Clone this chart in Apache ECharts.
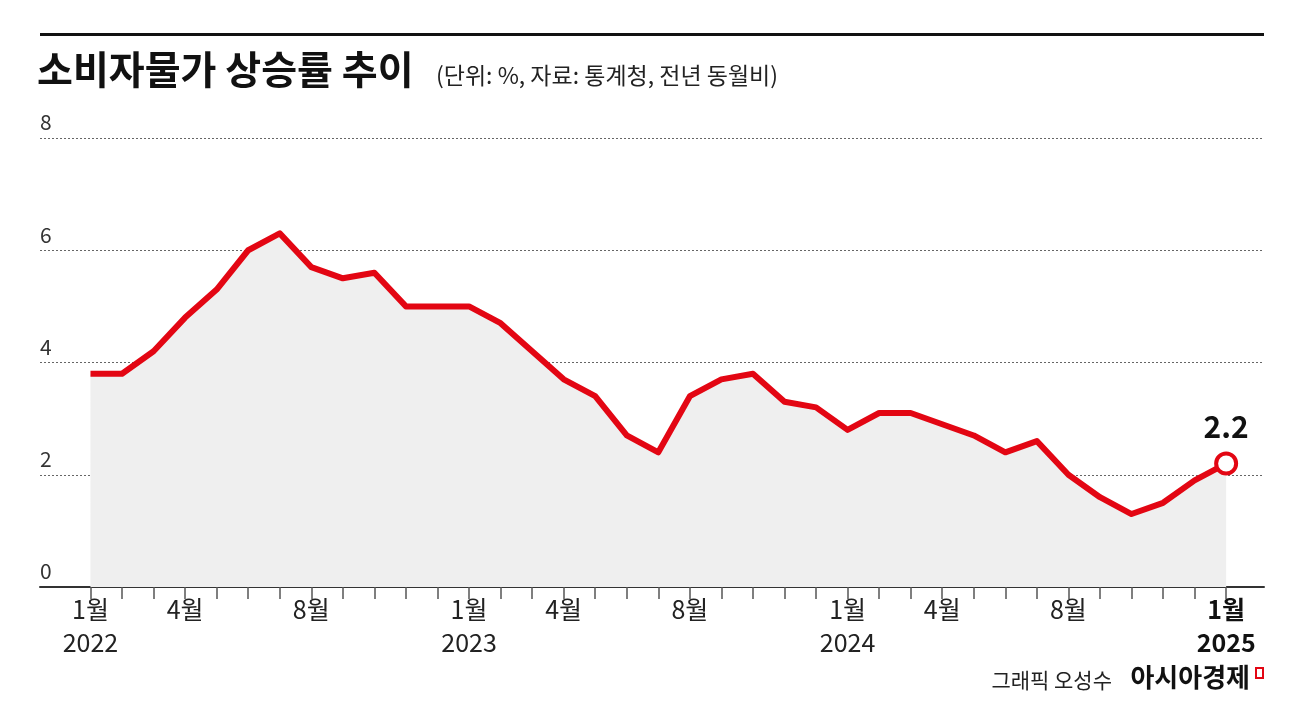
<!DOCTYPE html>
<html>
<head>
<meta charset="utf-8">
<script src="https://cdn.jsdelivr.net/npm/echarts@6/dist/echarts.min.js"></script>
<style>
  html, body { margin: 0; padding: 0; background: #fff; }
  #chart { width: 1304px; height: 714px; }
</style>
</head>
<body>
<div id="chart"></div>
<script>
var FONT = '"Noto Sans CJK KR", "Noto Sans", sans-serif';

// 월별 소비자물가 상승률 (2022.1 ~ 2025.1)
var rates = [
    3.8, 3.8, 4.2, 4.8, 5.3, 6.0, 6.3, 5.7, 5.5, 5.6, 5.0, 5.0,
    5.0, 4.7, 4.2, 3.7, 3.4, 2.7, 2.4, 3.4, 3.7, 3.8, 3.3, 3.2,
    2.8, 3.1, 3.1, 2.9, 2.7, 2.4, 2.6, 2.0, 1.6, 1.3, 1.5, 1.9,
    2.2
];
var labelIdx = [0, 3, 7, 12, 15, 19, 24, 27, 31, 36];
var labelText = ['1월\n2022', '4월', '8월', '1월\n2023', '4월', '8월', '1월\n2024', '4월', '8월', '1월\n2025'];
var yTicks = [0, 2, 4, 6, 8];

var monthIdx = rates.map(function (v, i) { return i; });
var points = rates.map(function (v, i) { return [i, v]; });
var last = points.length - 1;

var option = {
    animation: false,
    backgroundColor: '#fff',
    graphic: [
        { type: 'rect', shape: { x: 40, y: 33, width: 1224, height: 3 }, style: { fill: '#111' } },
        { type: 'text', left: 37, top: 50, style: { text: '소비자물가 상승률 추이', font: 'bold 39px ' + FONT, fill: '#111' } },
        { type: 'text', left: 436, top: 64, style: { text: '(단위: %, 자료: 통계청, 전년 동월비)', font: '23px ' + FONT, fill: '#222' } },
        { type: 'text', right: 192, top: 670, style: { text: '그래픽 오성수', font: '21px ' + FONT, fill: '#222' } },
        { type: 'text', right: 54, top: 664, style: { text: '아시아경제', font: 'bold 26px ' + FONT, fill: '#111' } },
        { type: 'rect', shape: { x: 1256, y: 668, width: 7, height: 10 }, style: { fill: 'none', stroke: '#e30613', lineWidth: 2 } }
    ],
    grid: { left: 40, right: 40, top: 138, bottom: 127 },
    xAxis: {
        type: 'value',
        min: -1.6,
        max: 37.2,
        splitLine: { show: false },
        axisLine: { show: true, onZero: false, lineStyle: { color: '#333', width: 2 } },
        axisTick: { show: true, customValues: monthIdx, inside: false, length: 12, lineStyle: { color: '#555', width: 1.5 } },
        axisLabel: {
            customValues: labelIdx,
            margin: 6,
            formatter: function (v) {
                var t = labelText[labelIdx.indexOf(v)];
                return v === 36 ? '{b|' + t + '}' : '{n|' + t + '}';
            },
            rich: {
                n: { fontFamily: FONT, fontSize: 25, color: '#222', lineHeight: 33 },
                b: { fontFamily: FONT, fontSize: 25, fontWeight: 'bold', color: '#111', lineHeight: 33 }
            }
        }
    },
    yAxis: {
        type: 'value',
        min: 0,
        max: 8,
        interval: 2,
        axisLine: { show: false },
        axisTick: { show: false },
        splitLine: { lineStyle: { color: '#666', type: [2, 2], width: 1 } },
        axisLabel: {
            inside: true,
            margin: 0,
            verticalAlign: 'bottom',
            padding: [0, 0, 5, 0],
            fontFamily: FONT,
            fontSize: 21,
            color: '#333',
            formatter: function (v) { return yTicks.indexOf(v) >= 0 ? String(v) : ''; }
        }
    },
    series: [{
        type: 'line',
        data: points,
        symbol: 'none',
        lineStyle: { color: '#e30613', width: 6, join: 'round' },
        areaStyle: { color: '#efefef', opacity: 1 },
        markPoint: {
            symbol: 'circle',
            symbolSize: 20,
            itemStyle: { color: '#fff', borderColor: '#e30613', borderWidth: 4 },
            label: {
                show: true, position: 'top', distance: 10,
                formatter: String(rates[last]),
                fontFamily: FONT, fontSize: 30, fontWeight: 'bold', color: '#111'
            },
            data: [{ coord: points[last], value: rates[last] }]
        },
        z: 3
    }]
};

var myChart = echarts.init(document.getElementById('chart'));
myChart.setOption(option);
</script>
</body>
</html>
